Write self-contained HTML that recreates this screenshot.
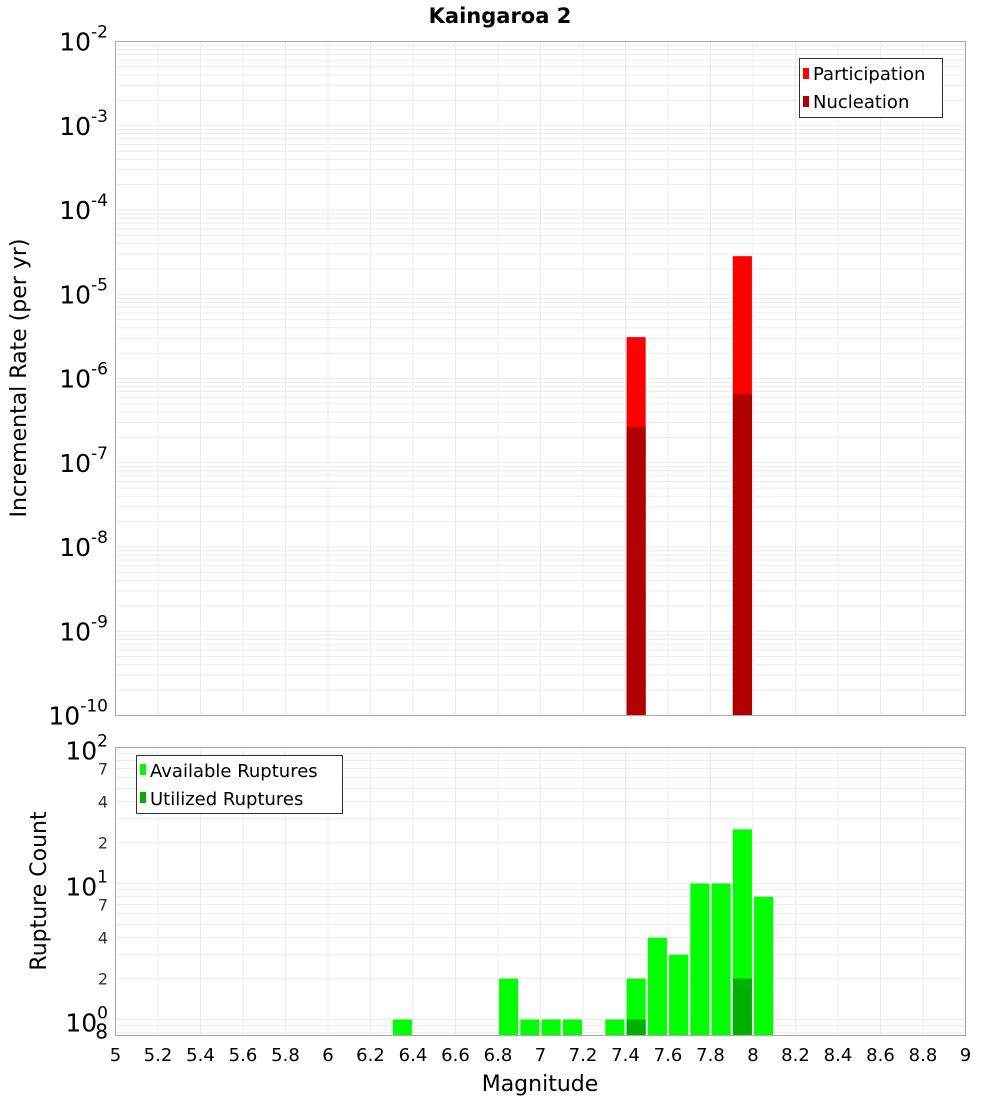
<!DOCTYPE html>
<html><head><meta charset="utf-8"><style>
body{margin:0;background:#fff;}
svg{display:block;font-family:"DejaVu Sans","Liberation Sans",sans-serif;}
</style></head><body>
<svg id="chart" width="1000" height="1100" viewBox="0 0 1000 1100" xmlns="http://www.w3.org/2000/svg">
<text x="500" y="23" text-anchor="middle" font-size="21" font-weight="bold">Kaingaroa 2</text>
<g id="topg"></g>
<g id="botg"></g>
<text transform="translate(26,378) rotate(-90)" text-anchor="middle" font-size="22">Incremental Rate (per yr)</text>
<text transform="translate(46,891) rotate(-90)" text-anchor="middle" font-size="22">Rupture Count</text>
<text x="540" y="1091" text-anchor="middle" font-size="22">Magnitude</text>
</svg>
<script>
const rateMags=[7.45,7.95];
const participation=[3.1e-6,2.83e-5];
const nucleation=[2.66e-7,6.5e-7];
const countMags=[6.35,6.85,6.95,7.05,7.15,7.35,7.45,7.55,7.65,7.75,7.85,7.95,8.05];
const available=[1,2,1,1,1,1,2,4,3,10,10,25,8];
const utilizedMags=[7.45,7.95];
const utilized=[1,2];
const xTicks=[5,5.2,5.4,5.6,5.8,6,6.2,6.4,6.6,6.8,7,7.2,7.4,7.6,7.8,8,8.2,8.4,8.6,8.8,9];

const NS='http://www.w3.org/2000/svg';
const L=115.5,R=965.5;
const xs=m=>L+(m-5)/4*(R-L);
const T1=41.5,B1=715.5;
const y1=v=>T1+(-2-Math.log10(v))/8*(B1-T1);
const T2=747.5,B2=1035.5,lo2=Math.log10(0.763);
const y2=v=>T2+(2-Math.log10(v))/(2-lo2)*(B2-T2);
const bw=0.09;
function el(p,tag,a,txt){const e=document.createElementNS(NS,tag);for(const k in a)e.setAttribute(k,a[k]);if(txt!==undefined)e.textContent=txt;p.appendChild(e);return e;}
const topG=document.getElementById('topg'),botG=document.getElementById('botg');

for(let d=-10;d<-2;d++)for(let k=1;k<10;k++){const yy=y1(k*Math.pow(10,d));
 const g=el(topG,'line',{x1:L,x2:R,y1:yy,y2:yy,stroke:'#ebebeb','stroke-width':1});
 
 }
xTicks.forEach(t=>{const g=el(topG,'line',{x1:xs(t),x2:xs(t),y1:T1,y2:B1,stroke:'#ebebeb'});
 
 });
rateMags.forEach((m,i)=>{
 const p=el(topG,'rect',{x:xs(m-bw/2),y:y1(participation[i]),width:xs(m+bw/2)-xs(m-bw/2),height:B1-y1(participation[i]),fill:'#ff0000'});
 
 
 const n=el(topG,'rect',{x:xs(m-bw/2),y:y1(nucleation[i]),width:xs(m+bw/2)-xs(m-bw/2),height:B1-y1(nucleation[i]),fill:'#b00000'});
 
 
});
const f1=el(topG,'rect',{x:L,y:T1,width:R-L,height:B1-T1,fill:'none',stroke:'#aaa'});


for(let d=-10;d<=-2;d++){const yy=y1(Math.pow(10,d));
 const t=el(topG,'text',{x:108,y:yy+9,'text-anchor':'end','font-size':25});
 
 
 el(t,'tspan',{},'10');el(t,'tspan',{dy:-13,'font-size':17},String(d));}

const lg=el(topG,'g',{});


el(lg,'rect',{x:799.5,y:58.5,width:143,height:59,fill:'#fff',stroke:'#333'});
el(lg,'rect',{x:803,y:68,width:6,height:11,fill:'#ff0000'});
el(lg,'text',{x:813,y:80,'font-size':18},'Participation');
el(lg,'rect',{x:803,y:96,width:6,height:11,fill:'#b00000'});
el(lg,'text',{x:813,y:108,'font-size':18},'Nucleation');

const minorB=[0.8,0.9];for(let d=0;d<2;d++)for(let k=1;k<10;k++)minorB.push(k*Math.pow(10,d));minorB.push(100);
minorB.forEach(v=>{const yy=y2(v);const g=el(botG,'line',{x1:L,x2:R,y1:yy,y2:yy,stroke:'#ebebeb'});
 
 });
xTicks.forEach(t=>{const g=el(botG,'line',{x1:xs(t),x2:xs(t),y1:T2,y2:B2,stroke:'#ebebeb'});
 
 });
countMags.forEach((m,i)=>{
 const b=el(botG,'rect',{x:xs(m-bw/2),y:y2(available[i]),width:xs(m+bw/2)-xs(m-bw/2),height:B2-y2(available[i]),fill:'#00ff00'});
 
 });
utilizedMags.forEach((m,i)=>{
 const b=el(botG,'rect',{x:xs(m-bw/2),y:y2(utilized[i]),width:xs(m+bw/2)-xs(m-bw/2),height:B2-y2(utilized[i]),fill:'#00b000'});
 
 });
const f2=el(botG,'rect',{x:L,y:T2,width:R-L,height:B2-T2,fill:'none',stroke:'#aaa'});


[0,1,2].forEach(d=>{const yy=y2(Math.pow(10,d));
 const t=el(botG,'text',{x:108,y:yy+12,'text-anchor':'end','font-size':25});
 
 
 el(t,'tspan',{},'10');el(t,'tspan',{dy:-13,'font-size':17},String(d));});
[[0.8,'8'],[2,'2'],[4,'4'],[7,'7'],[20,'2'],[40,'4'],[70,'7']].forEach(([v,s])=>{
 const t=el(botG,'text',{x:108,y:y2(v)+6,'text-anchor':'end','font-size':v===0.8?20:16,fill:v===0.8?'#000':'#333'},s);
 
 });
xTicks.forEach(t=>{const e=el(botG,'text',{x:xs(t),y:1061,'text-anchor':'middle','font-size':18},String(t));
 
 });

const lg2=el(botG,'g',{});


el(lg2,'rect',{x:136.5,y:755.5,width:206,height:58,fill:'#fff',stroke:'#333'});
el(lg2,'rect',{x:140,y:764,width:6,height:11,fill:'#00ff00'});
el(lg2,'text',{x:150,y:777,'font-size':18},'Available Ruptures');
el(lg2,'rect',{x:140,y:792,width:6,height:11,fill:'#00b000'});
el(lg2,'text',{x:150,y:805,'font-size':18},'Utilized Ruptures');
</script>
</body></html>
